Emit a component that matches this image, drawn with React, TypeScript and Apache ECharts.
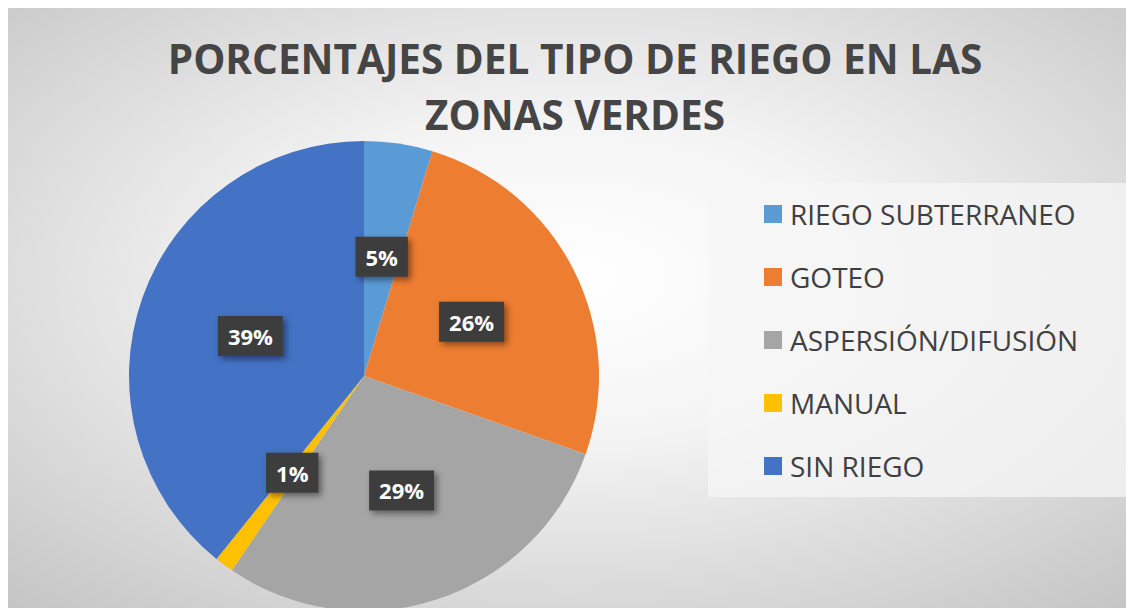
import React, { useEffect, useRef } from "react";
import * as echarts from "echarts";

const categories = ["RIEGO SUBTERRANEO", "GOTEO", "ASPERSIÓN/DIFUSIÓN", "MANUAL", "SIN RIEGO"];
const values = [4.7, 25.7, 29.1, 1.3, 39.2];
const colors = ["#5B9BD5", "#ED7D31", "#A5A5A5", "#FFC000", "#4472C4"];
const titleText = "PORCENTAJES DEL TIPO DE RIEGO EN LAS\nZONAS VERDES";

export default function App() {
  const ref = useRef<HTMLDivElement>(null);
  useEffect(() => {
    document.documentElement.style.overflow = "hidden";
    const chart = echarts.init(ref.current!, null, { renderer: "svg" });
    const total = values.reduce((a, b) => a + b, 0);
    chart.setOption({
      animation: false,
      backgroundColor: {
        type: "radial",
        x: 0.5,
        y: 0.45,
        r: 0.75,
        colorStops: [
          { offset: 0, color: "#ffffff" },
          { offset: 0.35, color: "#f4f4f4" },
          { offset: 1, color: "#c4c4c4" },
        ],
      },
      graphic: [
        {
          type: "rect",
          shape: { x: 700, y: 175, width: 420, height: 314 },
          style: { fill: "rgba(245,245,245,0.75)" },
          z: 0,
        },
        {
          type: "text",
          x: 567,
          y: 22,
          z: 10,
          style: {
            text: titleText,
            textAlign: "center",
            textVerticalAlign: "top",
            fontFamily: "Open Sans",
            fontWeight: "bold",
            fontSize: 40.5,
            lineHeight: 56,
            fill: "#454545",
          },
        },
      ],
      legend: {
        orient: "vertical",
        left: 751,
        top: 186,
        itemWidth: 18,
        itemHeight: 18,
        itemGap: 33,
        icon: "rect",
        data: categories,
        textStyle: {
          fontFamily: "Open Sans",
          fontSize: 28,
          lineHeight: 30,
          color: "#404040",
          padding: [0, 0, 0, 3],
        },
      },
      series: [
        {
          type: "pie",
          center: [356, 368],
          radius: [0, 235],
          startAngle: 90,
          clockwise: true,
          color: colors,
          data: categories.map((c, i) => ({ name: c, value: values[i] })),
          label: {
            show: true,
            position: "inside",
            formatter: (p: any) => Math.round((p.value / total) * 100) + "%",
            fontFamily: "Open Sans",
            fontWeight: "bold",
            fontSize: 22,
            color: "#ffffff",
            backgroundColor: "#3e3e3e",
            padding: [10, 10, 8, 10],
            shadowColor: "rgba(0,0,0,0.45)",
            shadowBlur: 6,
            shadowOffsetX: 3,
            shadowOffsetY: 3,
          },
          labelLine: { show: false },
          emphasis: { disabled: true },
        },
      ],
    });
    return () => chart.dispose();
  }, []);
  return <div ref={ref} style={{ width: 1126, height: 600 }} />;
}
